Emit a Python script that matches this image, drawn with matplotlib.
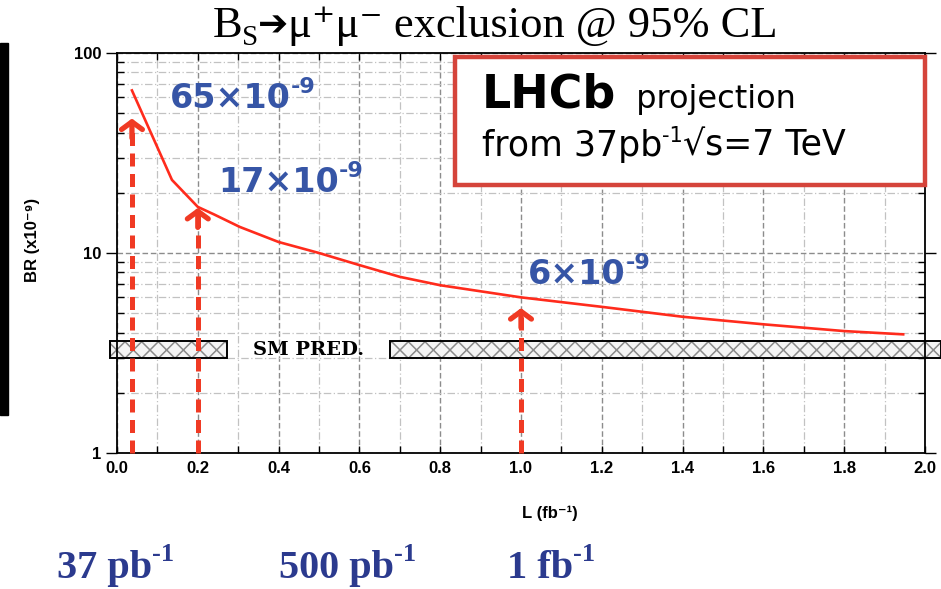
import matplotlib
matplotlib.use("Agg")
import matplotlib.pyplot as plt
from matplotlib.patches import Rectangle
from matplotlib.text import Annotation
from matplotlib.ticker import FixedLocator, FixedFormatter

# ---- data -------------------------------------------------------------
lumi = [0.037, 0.136, 0.2, 0.24, 0.304, 0.4, 0.5, 0.6, 0.7, 0.8, 1.0,
        1.2, 1.4, 1.6, 1.8, 1.946]
br_limit = [65, 23.2, 17, 15.6, 13.5, 11.35, 10.0, 8.7, 7.6, 6.9, 6.0,
            5.38, 4.8, 4.4, 4.07, 3.92]

sm_low, sm_high = 3.0, 3.63
sm_segments = [(-0.017, 0.272), (0.675, 2.04)]

marker_lumi = [0.037, 0.2, 1.0]
marker_tip = [47, 16.8, 5.3]

value_labels = ["65×10", "17×10", "6×10"]
value_exponent = "-9"

x_ticks = [0.0, 0.2, 0.4, 0.6, 0.8, 1.0, 1.2, 1.4, 1.6, 1.8, 2.0]
x_tick_labels = ["0.0", "0.2", "0.4", "0.6", "0.8", "1.0", "1.2", "1.4", "1.6", "1.8", "2.0"]
x_minor = [0.1, 0.3, 0.5, 0.7, 0.9, 1.1, 1.3, 1.5, 1.7, 1.9]
y_ticks = [1, 10, 100]
y_tick_labels = ["1", "10", "100"]
y_minor = [2, 3, 4, 5, 6, 7, 8, 9, 20, 30, 40, 50, 60, 70, 80, 90]

lumi_labels = ["37 pb", "500 pb", "1 fb"]

# ---- style ------------------------------------------------------------
RED = "#ff2b1c"
ARROW_RED = "#f03a24"
BLUE = "#3655a6"
NAVY = "#2b3a8e"
BOX_RED = "#d5443b"
plt.rcParams["hatch.linewidth"] = 1.1

W, H = 941, 589
fig = plt.figure(figsize=(W / 100, H / 100), dpi=100)
ax = fig.add_axes([117 / W, 1 - 453 / H, 808 / W, 400 / H])


def px(x, y):
    """figure pixel position measured from the top-left corner"""
    return (x, H - y)


def run_text(x, y, pieces, **common):
    """Draw a run of text pieces side by side; each piece may be raised."""
    first_s, first_kw, first_rise = pieces[0]
    kw = dict(common)
    kw.update(first_kw)
    first = Annotation(first_s, xy=px(x, y), xycoords="figure pixels",
                       xytext=(0, first_rise), textcoords="offset points",
                       ha="left", va="baseline", **kw)
    fig.add_artist(first)
    prev = first
    out = [first]
    for s, pkw, rise in pieces[1:]:
        kw = dict(common)
        kw.update(pkw)
        t = Annotation(s, xy=(1, H - y), xycoords=(prev, "figure pixels"),
                       xytext=(0, rise), textcoords="offset points",
                       ha="left", va="baseline", **kw)
        fig.add_artist(t)
        prev = t
        out.append(t)
    return out


# ---- axes -------------------------------------------------------------
ax.set_yscale("log")
ax.set_xlim(0, 2.0)
ax.set_ylim(1, 100)
ax.xaxis.set_major_locator(FixedLocator(x_ticks))
ax.xaxis.set_major_formatter(FixedFormatter(x_tick_labels))
ax.xaxis.set_minor_locator(FixedLocator(x_minor))
ax.yaxis.set_major_locator(FixedLocator(y_ticks))
ax.yaxis.set_major_formatter(FixedFormatter(y_tick_labels))
ax.yaxis.set_minor_locator(FixedLocator(y_minor))
ax.yaxis.set_minor_formatter(FixedFormatter([""] * len(y_minor)))

ax.tick_params(axis="x", which="both", direction="in", top=True, length=5,
               width=1.0, pad=6)
ax.tick_params(axis="y", which="major", direction="out", right=True,
               length=8, width=1.0, pad=3)
ax.tick_params(axis="y", which="minor", direction="in", right=True,
               length=5, width=1.0)
for lab in ax.get_xticklabels() + ax.get_yticklabels():
    lab.set_fontfamily("Liberation Sans")
    lab.set_fontweight("bold")
    lab.set_fontsize(12)
for sp in ax.spines.values():
    sp.set_linewidth(1.3)

ax.grid(which="major", color="#8c8c8c", linestyle=(0, (4, 2)), linewidth=1.0)
ax.grid(which="minor", color="#c2c2c2", linestyle=(0, (6, 2, 1, 2)), linewidth=0.9)

# SM prediction band
for x0, x1 in sm_segments:
    ax.add_patch(Rectangle((x0, sm_low), x1 - x0, sm_high - sm_low,
                           facecolor="#f4f4f4", edgecolor="#8a8a8a", hatch="xx",
                           linewidth=0, zorder=2, clip_on=False))
    ax.add_patch(Rectangle((x0, sm_low), x1 - x0, sm_high - sm_low,
                           fill=False, edgecolor="black", linewidth=1.4,
                           zorder=2.1, clip_on=False))
fig.text(309 / W, 1 - 350 / H, "SM PRED.", ha="center", va="center",
         fontfamily="DejaVu Serif", fontweight="bold", fontsize=14, color="black")

# Expected limit curve
ax.plot(lumi, br_limit, color=RED, linewidth=1.9, zorder=4)

# Luminosity markers
for L, tip in zip(marker_lumi, marker_tip):
    ax.plot([L, L], [1, tip * 0.93], color=ARROW_RED, linewidth=3.6,
            linestyle=(0, (2.6, 1.5)), zorder=5, clip_on=False,
            solid_capstyle="butt")
    ax.annotate("", xy=(L, tip), xytext=(0, -14), textcoords="offset points",
                arrowprops=dict(arrowstyle="->,head_length=0.55,head_width=0.75",
                                color=ARROW_RED, lw=3.8, shrinkA=0, shrinkB=0),
                zorder=5)

# Value labels
label_pos = [(170, 108), (218, 192), (528, 284)]
for (x, y), s in zip(label_pos, value_labels):
    run_text(x, y, [(s, dict(fontsize=24), 0), (value_exponent, dict(fontsize=16), 11)],
             color=BLUE, fontfamily="DejaVu Sans", fontweight="bold", zorder=6)

# Axis titles
fig.text(33 / W, 1 - 240 / H, "BR (x10⁻⁹)", rotation=90, ha="center", va="center",
         fontfamily=["Liberation Sans", "DejaVu Sans"], fontweight="bold", fontsize=12)
fig.text(550 / W, 1 - 513 / H, "L (fb⁻¹)", ha="center", va="center",
         fontfamily=["Liberation Sans", "DejaVu Sans"], fontweight="bold", fontsize=12)

# LHCb box
fig.add_artist(Rectangle((455 / W, 1 - 185 / H), 470 / W, 128 / H,
                         transform=fig.transFigure, facecolor="white",
                         edgecolor=BOX_RED, linewidth=3.2, zorder=3))
run_text(482, 108, [("LHCb", dict(fontsize=33, fontweight="bold"), 0),
                    ("  projection", dict(fontsize=23), 0)],
         color="black", fontfamily="DejaVu Sans", zorder=4)
run_text(482, 156, [("from 37pb", dict(fontsize=25), 0),
                    ("-1", dict(fontsize=15), 10),
                    ("√s=7 TeV", dict(fontsize=25), 0)],
         color="black", fontfamily="DejaVu Sans", zorder=4)

# Title
title = run_text(0, 37, [("B", dict(fontsize=32), 0),
                         ("S", dict(fontsize=21), -6),
                         ("➔", dict(fontsize=26, fontfamily="DejaVu Sans",
                                    fontweight="bold"), 1),
                         ("μ⁺μ⁻ exclusion @ 95% CL", dict(fontsize=32), 0)],
                 color="black", fontfamily=["Liberation Serif", "DejaVu Serif"], zorder=4)

# Luminosity steps underneath
for x, s in zip([57, 279, 507], lumi_labels):
    run_text(x, 578, [(s, dict(fontsize=29), 0), ("-1", dict(fontsize=19), 12)],
             color=NAVY, fontfamily="Liberation Serif", fontweight="bold", zorder=4)

# Left edge bar
fig.add_artist(Rectangle((0, 1 - 415 / H), 8 / W, 372 / H,
                         transform=fig.transFigure, color="black", zorder=4))

# centre the title
fig.canvas.draw()
r = fig.canvas.get_renderer()
x_left = title[0].get_window_extent(r).x0
x_right = title[-1].get_window_extent(r).x1
shift = 495 - (x_left + x_right) / 2
title[0].xy = (title[0].xy[0] + shift, title[0].xy[1])

fig.savefig("out.png", dpi=100)
